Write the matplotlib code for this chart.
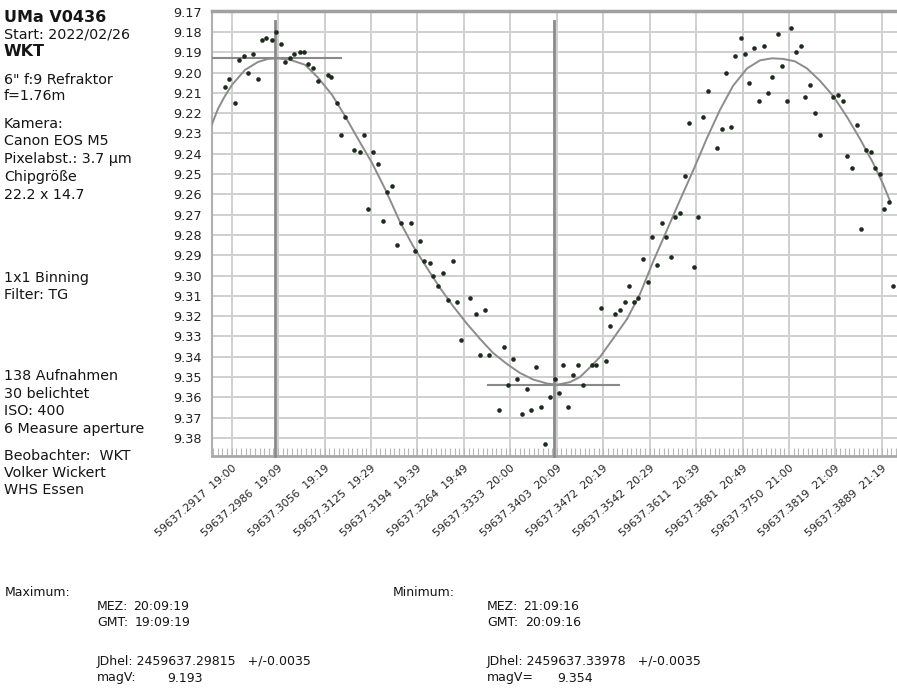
import matplotlib
matplotlib.use("Agg")
import matplotlib.pyplot as plt
import matplotlib.transforms as mtransforms
from matplotlib.ticker import MultipleLocator

plt.rcParams['font.family'] = ['DejaVu Sans']

# ---------------- data (JD fraction after 2459637 / 59637, magnitude V) ----------------
obs_x = [0.29067, 0.29131, 0.29212, 0.29276, 0.29346, 0.29406, 0.29481, 0.29560, 0.29616, 0.29684,
         0.29765, 0.29825, 0.29909, 0.29964, 0.30034, 0.30103, 0.30184, 0.30252, 0.30312, 0.30378,
         0.30453, 0.30602, 0.30652, 0.30741, 0.30861, 0.30801, 0.31149, 0.31000, 0.31085, 0.31284,
         0.31350, 0.31209, 0.31429, 0.31489, 0.31559,
         0.31698, 0.31843, 0.31634, 0.31982, 0.31912, 0.32046, 0.32132, 0.32471, 0.32181, 0.32330,
         0.32256, 0.32405, 0.32540, 0.32734, 0.32819, 0.32949, 0.32600, 0.32879, 0.33018, 0.33233,
         0.33372, 0.33716, 0.34124, 0.33298, 0.33432, 0.33577, 0.33926, 0.34005, 0.34065, 0.33168,
         0.33511, 0.33642, 0.33787, 0.34199, 0.33855,
         0.34274, 0.34349, 0.34414, 0.34558, 0.34613, 0.34758, 0.34693, 0.34823, 0.34902, 0.34972,
         0.35042, 0.35107, 0.35177, 0.35241, 0.35311, 0.35391, 0.35450, 0.35521, 0.35596, 0.35660,
         0.35735, 0.35799, 0.35865, 0.35939, 0.36078, 0.36143, 0.36004, 0.36208, 0.36427, 0.36493,
         0.36288,
         0.36627, 0.36557, 0.36696, 0.36777, 0.36841, 0.36905, 0.36980, 0.37050, 0.37120, 0.37189,
         0.37249, 0.37330, 0.37394, 0.37469, 0.37529, 0.37608, 0.37674, 0.37742, 0.37813, 0.37883,
         0.37958, 0.38161, 0.38231, 0.38301, 0.38511, 0.38366, 0.38436, 0.38650, 0.38720, 0.38784,
         0.38859, 0.38998, 0.38923, 0.38575, 0.39058]
obs_mag = [9.207, 9.203, 9.215, 9.194, 9.192, 9.200, 9.191, 9.203, 9.184, 9.183,
           9.184, 9.180, 9.186, 9.195, 9.193, 9.191, 9.190, 9.190, 9.196, 9.198,
           9.204, 9.201, 9.202, 9.215, 9.222, 9.231, 9.231, 9.238, 9.239, 9.239,
           9.245, 9.267, 9.273, 9.259, 9.256,
           9.274, 9.274, 9.285, 9.283, 9.288, 9.293, 9.294, 9.293, 9.300, 9.299,
           9.305, 9.312, 9.313, 9.311, 9.319, 9.317, 9.332, 9.339, 9.339, 9.335,
           9.341, 9.345, 9.344, 9.354, 9.351, 9.356, 9.360, 9.351, 9.358, 9.366,
           9.368, 9.366, 9.365, 9.365, 9.383,
           9.349, 9.344, 9.354, 9.344, 9.344, 9.342, 9.316, 9.325, 9.319, 9.317,
           9.313, 9.305, 9.313, 9.311, 9.292, 9.303, 9.281, 9.295, 9.274, 9.281,
           9.291, 9.271, 9.269, 9.251, 9.296, 9.271, 9.225, 9.222, 9.237, 9.228,
           9.209,
           9.227, 9.200, 9.192, 9.183, 9.191, 9.205, 9.188, 9.214, 9.187, 9.210,
           9.202, 9.181, 9.197, 9.214, 9.178, 9.190, 9.187, 9.212, 9.206, 9.220,
           9.231, 9.212, 9.211, 9.214, 9.226, 9.241, 9.247, 9.238, 9.239, 9.247,
           9.250, 9.264, 9.267, 9.277, 9.305]

fit_x = [0.28868, 0.28962, 0.29067, 0.29171, 0.29366, 0.29560, 0.29710, 0.29844, 0.30039, 0.30263,
         0.30457, 0.30667, 0.30861, 0.31055, 0.31264, 0.31459, 0.31683, 0.31877, 0.32087, 0.32281,
         0.32475, 0.32685, 0.32879, 0.33073, 0.33283, 0.33477, 0.33671, 0.33881, 0.34030, 0.34225,
         0.34374, 0.34524, 0.34673, 0.34867, 0.35077, 0.35271, 0.35465, 0.35675, 0.35869, 0.36063,
         0.36273, 0.36467, 0.36661, 0.36871, 0.37065, 0.37244, 0.37409, 0.37588, 0.37768, 0.37962,
         0.38157, 0.38366, 0.38560, 0.38754, 0.38904, 0.39009]
fit_mag = [9.2258, 9.2179, 9.2115, 9.2061, 9.1987, 9.1948, 9.1933, 9.1930, 9.1937, 9.1962,
           9.2025, 9.2110, 9.2214, 9.2327, 9.2445, 9.2573, 9.2736, 9.2854, 9.2963, 9.3061,
           9.3150, 9.3238, 9.3312, 9.3381, 9.3436, 9.3480, 9.3512, 9.3532, 9.3538, 9.3525,
           9.3500, 9.3452, 9.3401, 9.3312, 9.3214, 9.3091, 9.2933, 9.2775, 9.2628, 9.2485,
           9.2322, 9.2184, 9.2066, 9.1980, 9.1940, 9.1930, 9.1933, 9.1945, 9.1980, 9.2041,
           9.2115, 9.2219, 9.2327, 9.2445, 9.2549, 9.2633]

max_x, max_mag = 0.29815, 9.193
min_x, min_mag = 0.33978, 9.354

xtick_vals = [0.2917, 0.2986, 0.3056, 0.3125, 0.3194, 0.3264, 0.3333, 0.3403,
              0.3472, 0.3542, 0.3611, 0.3681, 0.3750, 0.3819, 0.3889]
xtick_labels = ["59637.2917  19:00", "59637.2986  19:09", "59637.3056  19:19", "59637.3125  19:29",
                "59637.3194  19:39", "59637.3264  19:49", "59637.3333  20:00", "59637.3403  20:09",
                "59637.3472  20:19", "59637.3542  20:29", "59637.3611  20:39", "59637.3681  20:49",
                "59637.3750  21:00", "59637.3819  21:09", "59637.3889  21:19"]
ytick_vals = [9.17, 9.18, 9.19, 9.20, 9.21, 9.22, 9.23, 9.24, 9.25, 9.26, 9.27,
              9.28, 9.29, 9.30, 9.31, 9.32, 9.33, 9.34, 9.35, 9.36, 9.37, 9.38]

# ---------------- figure ----------------
W, H = 897, 688
fig = plt.figure(figsize=(W / 100, H / 100), dpi=100)
fig.patch.set_facecolor('white')

ax_l, ax_t, ax_b = 211.7, 11.0, 456.0
ax = fig.add_axes([ax_l / W, 1 - ax_b / H, (W - ax_l) / W, (ax_b - ax_t) / H])
x_left, x_right = 0.28868, 0.39113
y_bottom, y_top = 9.3889, 9.1697
ax.set_xlim(x_left, x_right)
ax.set_ylim(y_bottom, y_top)

ax.set_axisbelow(True)
ax.set_xticks(xtick_vals)
ax.set_xticklabels(xtick_labels, rotation=41, ha='right', va='top',
                   rotation_mode='anchor', fontsize=7.8, color='#222222')
off = mtransforms.ScaledTranslation(0.04, 0.0, fig.dpi_scale_trans)
for lbl in ax.get_xticklabels():
    lbl.set_transform(lbl.get_transform() + off)
ax.set_yticks(ytick_vals)
ax.set_yticklabels([f"{v:.2f}" for v in ytick_vals], fontsize=9.3, color='#222222')
ax.xaxis.set_minor_locator(MultipleLocator(1 / 1440))
ax.tick_params(axis='x', which='major', length=0, pad=5)
ax.tick_params(axis='x', which='minor', direction='in', length=6, width=0.8, color='#b8b8b8')
ax.tick_params(axis='y', which='both', length=0, pad=7)
ax.grid(True, which='major', axis='both', color='#cfcfcf', lw=1.4)

ax.spines['right'].set_visible(False)
ax.spines['top'].set_color('#a0a0a0')
ax.spines['top'].set_linewidth(2.5)
ax.spines['left'].set_color('#b0b0b0')
ax.spines['left'].set_linewidth(1.5)
ax.spines['bottom'].set_color('#a8a8a8')
ax.spines['bottom'].set_linewidth(2.0)

# fitted curve
ax.plot(fit_x, fit_mag, color='#8c8c8c', lw=1.4, zorder=3)
# extremum markers
hw = 0.0098
for cx, cm in [(max_x, max_mag), (min_x, min_mag)]:
    ax.plot([cx, cx], [9.1745, y_bottom], color='#8a8a8a', lw=2.0, zorder=3, clip_on=False)
    ax.plot([cx - hw, cx + hw], [cm, cm], color='#8a8a8a', lw=1.5, zorder=3)
# observations
ax.plot(obs_x, obs_mag, 'o', ms=3.3, color='#1d2b1d', mec='none', zorder=4)

# ---------------- text ----------------
def ftext(px, py, s, **kw):
    fig.text(px / W, 1 - py / H, s, va='center', ha='left', color='#151515', **kw)

fs = 10.3
ftext(4, 17, "UMa V0436", fontsize=11.5, fontweight='bold')
ftext(4, 35, "Start: 2022/02/26", fontsize=fs)
ftext(4, 52, "WKT", fontsize=11.5, fontweight='bold')
ftext(4, 80, "6\" f:9 Refraktor", fontsize=fs)
ftext(4, 96, "f=1.76m", fontsize=fs)
ftext(4, 124, "Kamera:", fontsize=fs)
ftext(4, 141, "Canon EOS M5", fontsize=fs)
ftext(4, 159, "Pixelabst.: 3.7 µm", fontsize=fs)
ftext(4, 177, "Chipgröße", fontsize=fs)
ftext(4, 195, "22.2 x 14.7", fontsize=fs)
ftext(4, 278, "1x1 Binning", fontsize=fs)
ftext(4, 295, "Filter: TG", fontsize=fs)
ftext(4, 376, "138 Aufnahmen", fontsize=fs)
ftext(4, 394, "30 belichtet", fontsize=fs)
ftext(4, 411, "ISO: 400", fontsize=fs)
ftext(4, 429, "6 Measure aperture", fontsize=fs)
ftext(4, 456, "Beobachter:  WKT", fontsize=fs)
ftext(4, 473, "Volker Wickert", fontsize=fs)
ftext(4, 490, "WHS Essen", fontsize=fs)

bf = 9.0
ftext(5, 592, "Maximum:", fontsize=bf)
ftext(97, 606, "MEZ:", fontsize=bf)
ftext(133, 606, "20:09:19", fontsize=bf)
ftext(97, 622, "GMT:", fontsize=bf)
ftext(135, 622, "19:09:19", fontsize=bf)
ftext(97, 661, "JDhel: 2459637.29815   +/-0.0035", fontsize=bf)
ftext(97, 678, "magV:", fontsize=bf)
ftext(167, 678, "9.193", fontsize=bf)

ftext(393, 592, "Minimum:", fontsize=bf)
ftext(487, 606, "MEZ:", fontsize=bf)
ftext(523, 606, "21:09:16", fontsize=bf)
ftext(487, 622, "GMT:", fontsize=bf)
ftext(525, 622, "20:09:16", fontsize=bf)
ftext(487, 661, "JDhel: 2459637.33978   +/-0.0035", fontsize=bf)
ftext(487, 678, "magV=", fontsize=bf)
ftext(557, 678, "9.354", fontsize=bf)

fig.savefig("out.png", dpi=100, facecolor='white')
